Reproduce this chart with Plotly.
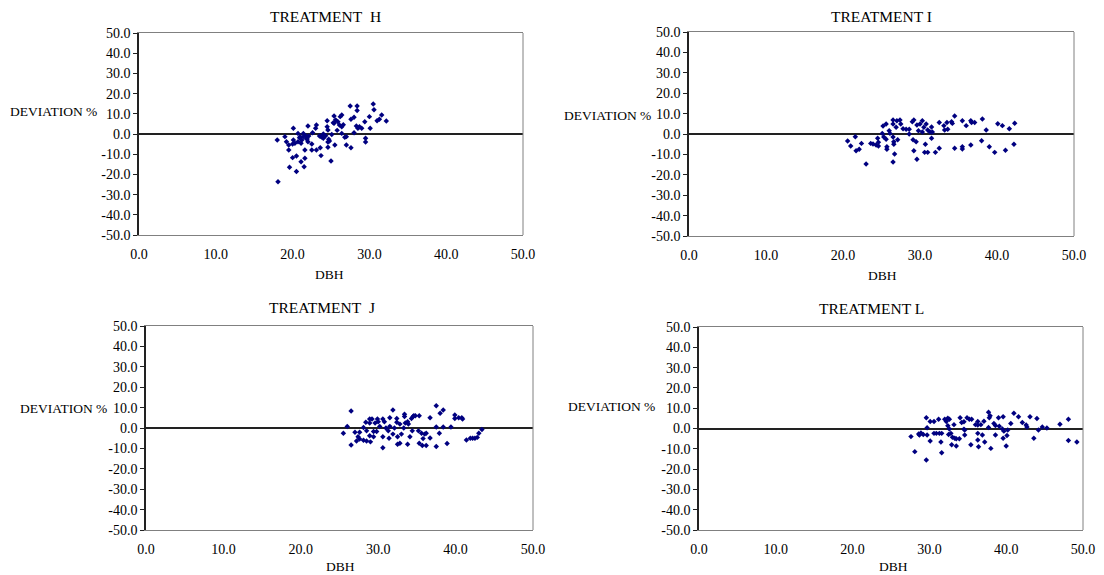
import plotly.graph_objects as go

# ---------------- DATA ----------------
titles = ["TREATMENT\u00a0 H", "TREATMENT I", "TREATMENT\u00a0 J", "TREATMENT L"]
x_label = "DBH"
y_label = "DEVIATION %"
x_ticks = [0, 10, 20, 30, 40, 50]
y_ticks = [50, 40, 30, 20, 10, 0, -10, -20, -30, -40, -50]

h_dbh = [18.1, 18.0, 19.0, 19.2, 19.5, 19.5, 19.6, 20.0, 20.1, 20.1, 20.3, 20.5, 20.5, 20.7, 20.7,
         21.0, 21.1, 21.1, 21.4, 21.4, 21.5, 21.6, 21.6, 21.8, 22.0, 22.0, 22.5, 22.5, 22.6, 23.0,
         23.1, 23.1, 23.5, 23.6, 23.7, 23.8, 24.0, 24.1, 24.5, 24.5, 24.6, 24.6, 24.7, 25.0, 25.1,
         25.4, 25.4, 25.5, 25.6, 25.9, 26.1, 26.4, 26.4, 26.4, 26.8, 27.0, 27.0, 27.5, 27.6, 27.6,
         28.0, 28.0, 28.3, 28.4, 28.4, 28.5, 28.7, 29.0, 29.4, 29.5, 29.5, 30.0, 30.1, 30.5, 30.6,
         31.0, 31.3, 31.6, 32.2, 20.0, 20.9, 21.2, 21.7, 21.9, 22.1, 23.7, 24.0, 24.3, 24.8, 25.8,
         26.6, 26.2, 24.6, 25.3]
h_dev = [-23.6, -3.0, -1.3, -3.8, -5.4, -7.9, -16.5, -11.7, 2.8, -3.0, -4.6, -18.6, -10.9, 0.3, -3.8,
         -1.3, -13.7, -4.6, 0.3, -1.3, -16.2, -12.0, -7.9, -2.3, 4.0, -3.8, -7.9, -5.0, 0.6, 2.8,
         4.5, -7.9, -1.0, -6.8, -10.7, -1.5, -2.1, -1.0, 6.6, 3.6, -6.6, -4.0, -2.6, -13.4, -0.2,
         8.9, 5.3, -5.4, 7.0, 6.1, 4.5, 9.4, 3.6, 0.3, -1.6, -5.4, -1.3, 13.9, -6.8, 7.3,
         0.6, 8.3, 4.0, 13.9, 11.6, 2.8, 3.6, 2.8, 6.1, -2.1, -4.0, 8.6, 2.8, 14.9, 12.0,
         6.6, 7.3, 9.4, 6.4, -4.9, -1.9, -3.0, -0.8, -2.5, -1.0, -1.2, 0.0, -0.9, -3.5, 1.8,
         4.6, 8.6, 2.0, 5.6]

i_dbh = [20.6, 21.0, 21.6, 21.7, 22.1, 22.4, 23.0, 23.6, 23.9, 24.3, 24.5, 24.6, 24.6, 25.1, 25.2,
         25.3, 25.6, 25.6, 25.7, 25.7, 26.0, 26.1, 26.5, 26.5, 26.5, 26.6, 26.6, 26.7, 26.5, 26.9,
         27.0, 27.1, 27.4, 27.5, 27.8, 28.2, 28.6, 28.6, 29.0, 29.1, 29.2, 29.2, 29.5, 29.6, 29.6,
         29.8, 30.0, 30.3, 30.3, 30.5, 30.7, 30.6, 30.8, 31.0, 31.0, 31.3, 31.5, 31.5, 31.6, 32.0,
         32.5, 32.5, 33.1, 33.2, 33.5, 33.6, 34.1, 34.2, 34.5, 34.5, 35.5, 35.5, 35.5, 36.0, 36.6,
         36.6, 36.7, 37.1, 38.0, 38.1, 38.6, 39.0, 39.7, 40.1, 40.7, 41.1, 41.6, 42.2, 42.3]
i_dev = [-3.4, -5.9, -1.3, -8.2, -7.5, -4.6, -14.7, -4.6, -4.9, -5.4, -2.1, -4.0, -5.9, 0.3, 3.9,
         -1.5, 4.9, -2.6, -6.2, -7.5, 1.6, 0.3, 6.9, 4.9, -1.5, -3.8, -5.0, -9.8, -13.7, 3.3,
         6.5, -2.8, 6.9, 4.9, 2.6, 2.3, 2.3, 0.0, 6.0, -2.8, -8.2, 6.9, -3.8, -12.4, 4.4,
         1.6, 4.9, 6.5, 1.0, 3.3, -5.0, -9.0, 4.9, -9.0, 2.0, 1.0, 3.4, -2.1, 1.0, -9.0,
         5.6, -7.0, 4.1, 2.0, 5.6, 2.3, 6.0, 5.2, 8.8, -7.0, 6.5, -6.2, -7.4, 4.1, 6.5,
         -5.4, 5.6, 5.6, -3.3, 7.4, 2.0, -6.2, -9.0, 5.0, 4.1, -8.0, 2.6, -5.0, 5.3]

j_dbh = [25.5, 26.0, 26.5, 26.5, 27.0, 27.2, 27.4, 27.6, 27.6, 28.1, 28.1, 28.4, 28.5, 28.5, 28.9,
         28.9, 28.9, 29.0, 29.2, 29.4, 29.4, 29.6, 29.8, 29.9, 30.0, 30.2, 30.6, 30.6, 30.6, 30.8,
         31.0, 31.3, 31.4, 31.5, 31.5, 31.9, 31.9, 32.1, 32.4, 32.4, 32.5, 32.5, 32.8, 32.8, 33.0,
         33.3, 33.4, 33.4, 33.5, 33.8, 33.8, 33.9, 34.1, 34.3, 34.4, 34.5, 34.6, 34.8, 35.2, 35.3,
         35.3, 35.6, 35.7, 35.8, 36.0, 36.2, 36.2, 36.7, 36.7, 37.5, 37.5, 37.5, 37.9, 38.0, 38.4,
         38.4, 38.9, 39.4, 39.9, 39.9, 40.4, 40.8, 40.9, 41.4, 41.9, 42.2, 42.5, 42.8, 43.0, 43.4]
j_dev = [-2.6, 0.7, 8.3, -8.3, -2.1, -6.4, -4.3, -2.1, -5.4, 0.2, -6.0, 2.8, -1.4, -6.4, 4.4,
         -3.8, 2.5, -6.8, 4.4, -1.7, -4.3, 2.5, -1.7, 4.4, 3.1, 0.7, -9.7, 4.4, -4.3, 3.1,
         0.0, -1.4, -5.0, 5.0, 0.8, 8.8, -3.0, 0.0, 4.7, 2.8, -8.0, -4.3, 1.9, -7.5, -3.0,
         0.0, 6.7, 5.6, 2.4, 3.1, -8.0, 2.0, -4.3, 4.7, -1.4, 5.6, 6.0, 6.0, -1.4, 6.0,
         -7.5, -2.6, -8.6, -5.2, -3.0, -2.6, -8.6, 5.0, -4.9, 10.9, 0.5, -9.1, -2.6, 7.2, 8.8,
         0.5, -7.6, 0.5, 6.4, 4.7, 5.0, 5.0, 4.4, -5.9, -5.0, -5.0, -5.0, -4.6, -2.6, -0.7]

l_dbh = [27.6, 28.1, 28.6, 28.7, 28.9, 29.2, 29.6, 29.6, 29.7, 29.7, 30.1, 30.1, 30.6, 30.6, 30.9,
         31.2, 31.3, 31.5, 31.6, 31.6, 32.0, 32.2, 32.4, 32.4, 32.5, 32.6, 32.6, 32.8, 32.9, 33.0,
         33.2, 33.3, 33.5, 33.5, 33.9, 34.0, 34.2, 34.5, 34.5, 34.6, 34.6, 34.9, 35.2, 35.4, 35.5,
         36.0, 36.3, 36.3, 36.3, 36.3, 36.4, 36.7, 36.9, 37.1, 37.2, 37.7, 37.7, 37.8, 37.9, 38.0,
         38.4, 38.6, 38.6, 39.0, 39.1, 39.5, 39.6, 39.6, 39.7, 40.0, 40.1, 40.2, 40.6, 41.0, 41.6,
         42.1, 42.6, 42.7, 43.1, 43.6, 44.0, 44.2, 44.7, 45.3, 47.0, 48.1, 48.1, 49.2]
l_dev = [-4.0, -11.4, -2.7, -3.2, -2.2, -3.0, 5.3, -15.5, 0.4, -3.2, 3.4, -6.2, 3.4, -2.4, -2.4,
         4.6, -2.4, -6.6, -11.9, -2.4, 4.6, 3.4, 5.0, 1.4, -3.0, 4.6, -0.2, -2.4, -8.0, -4.3,
         1.9, -4.8, -8.6, -5.0, -5.0, 5.3, 3.0, -0.3, 3.3, -3.2, -0.8, 5.3, 4.6, -8.0, 4.6,
         1.9, 3.4, 1.7, -2.4, -5.7, -9.0, 1.9, -3.2, 3.6, -6.6, 8.0, 0.5, 5.3, 6.3, -9.8,
         2.5, -3.2, 1.5, 5.3, 1.1, -0.2, 5.8, -4.8, -1.3, -8.6, -3.5, -0.7, 2.5, 7.5, 5.8,
         3.0, 1.7, 0.7, 5.8, -4.8, 4.9, -0.7, 0.7, 0.2, 2.1, 4.6, -5.9, -6.6]

series_x = [h_dbh, i_dbh, j_dbh, l_dbh]
series_y = [h_dev, i_dev, j_dev, l_dev]

# ---------------- LAYOUT ----------------
OFF = 8                      # default page body margin
W, H = 1104 - OFF, 575 - OFF
# plot-area boxes in window pixels (left, right, top, bottom)
boxes = [(139, 523, 33, 235), (689, 1074, 32, 236), (146, 533, 326, 530), (699, 1083, 327, 530)]
title_pos = [(325, 16), (881, 16), (322, 307), (871, 308)]
xlab_pos = [(329, 274), (882, 275), (340, 566), (893, 566)]
ylab_pos = [(53, 111), (607, 115), (63, 408), (611, 406)]

def px(x):
    return (x - OFF) / W

def py(y):
    return 1 - (y - OFF) / H

FONT = "Liberation Serif, Times New Roman, serif"
fig = go.Figure()
layout = dict(width=W, height=H, margin=dict(l=0, r=0, t=0, b=0, autoexpand=False),
              template="none",
              paper_bgcolor="white", plot_bgcolor="white", showlegend=False,
              font=dict(family=FONT, size=14, color="black"), hovermode=False)
annotations = []
shapes = []
for k in range(4):
    sfx = "" if k == 0 else str(k + 1)
    l, r, t, b = boxes[k]
    fig.add_trace(go.Scatter(x=series_x[k], y=series_y[k], mode="markers",
                             xaxis="x" + sfx, yaxis="y" + sfx,
                             marker=dict(symbol="diamond", size=4.2, color="#000080",
                                         line=dict(width=0))))
    layout["xaxis" + sfx] = dict(domain=[px(l), px(r)], anchor="y" + sfx, range=[0, 50],
                                 tickvals=x_ticks, ticktext=[f"{v:.1f}" for v in x_ticks],
                                 showgrid=False, zeroline=False, showline=True, automargin=False,
                                 linecolor="#808080", linewidth=1, mirror=True,
                                 ticks="", ticklabelstandoff=6,
                                 tickfont=dict(family=FONT, size=14, color="black"))
    layout["yaxis" + sfx] = dict(domain=[py(b), py(t)], anchor="x" + sfx, range=[-50, 50],
                                 tickvals=y_ticks, ticktext=[f"{v:.1f}" for v in y_ticks],
                                 showgrid=False, zeroline=True, zerolinecolor="#222222",
                                 zerolinewidth=1.5, showline=True, linecolor="#222222",
                                 automargin=False,
                                 linewidth=1.5, ticks="outside", ticklen=4, tickcolor="#222222",
                                 tickfont=dict(family=FONT, size=14, color="black"))
    shapes.append(dict(type="line", xref="x" + sfx + " domain", yref="y" + sfx + " domain",
                       x0=1, x1=1, y0=0, y1=1, line=dict(color="#808080", width=1)))
    tx, ty = title_pos[k]
    annotations.append(dict(text=titles[k], x=px(tx), y=py(ty), xref="paper", yref="paper",
                            showarrow=False, xanchor="center", yanchor="middle",
                            borderpad=0,
                            font=dict(family=FONT, size=15.5, color="black")))
    xx, xy = xlab_pos[k]
    annotations.append(dict(text=x_label, x=px(xx), y=py(xy), xref="paper", yref="paper",
                            showarrow=False, xanchor="center", yanchor="middle",
                            borderpad=0,
                            font=dict(family=FONT, size=13.5, color="black")))
    yx, yy = ylab_pos[k]
    annotations.append(dict(text=y_label, x=px(yx), y=py(yy), xref="paper", yref="paper",
                            showarrow=False, xanchor="center", yanchor="middle",
                            borderpad=0,
                            font=dict(family=FONT, size=13.5, color="black")))

layout["annotations"] = annotations
layout["shapes"] = shapes
fig.update_layout(**layout)
fig.write_html("out.html")
